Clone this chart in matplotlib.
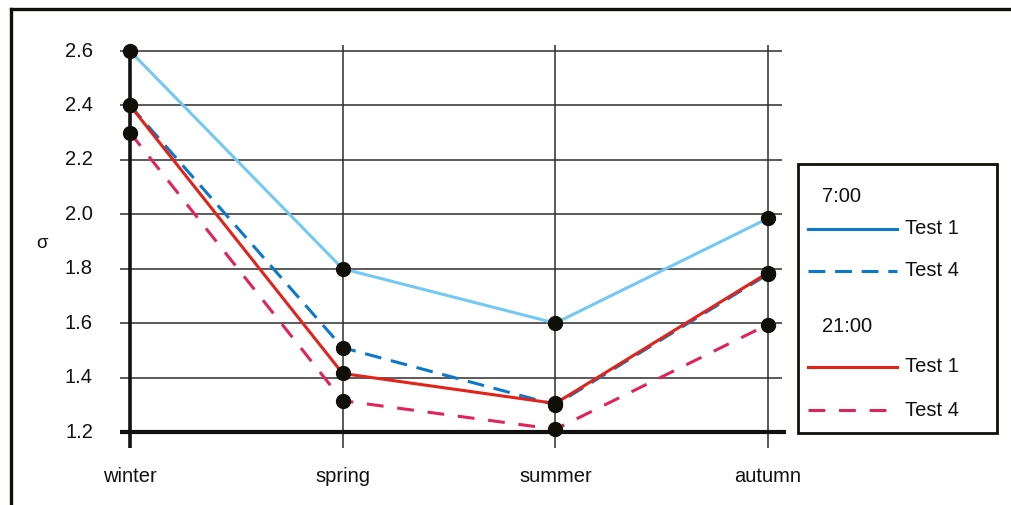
import matplotlib
matplotlib.use("Agg")
import matplotlib.pyplot as plt
from matplotlib.lines import Line2D
from matplotlib.patches import Rectangle

plt.rcParams['font.family'] = ['Liberation Sans', 'DejaVu Sans']

seasons = ["winter", "spring", "summer", "autumn"]
yticks = [1.2, 1.4, 1.6, 1.8, 2.0, 2.2, 2.4, 2.6]
ytick_labels = ["1.2", "1.4", "1.6", "1.8", "2.0", "2.2", "2.4", "2.6"]

am_test1 = [2.60, 1.80, 1.60, 1.985]
am_test4 = [2.40, 1.51, 1.30, 1.78]
pm_test1 = [2.40, 1.415, 1.305, 1.785]
pm_test4 = [2.30, 1.315, 1.21, 1.595]

W, H = 1011, 505
fig = plt.figure(figsize=(W / 100, H / 100), dpi=100)

FS = 14.5

# axes placement in pixels
L, R, T, B = 115, 790, 40, 455
ax = fig.add_axes([L / W, 1 - B / H, (R - L) / W, (B - T) / H])
px_x = (768 - 130) / 3.0
px_y = (432 - 51) / 1.4
ax.set_xlim((L - 130) / px_x, (R - 130) / px_x)
ax.set_ylim(1.2 - (B - 432) / px_y, 2.6 + (51 - T) / px_y)
for s in ax.spines.values():
    s.set_visible(False)
ax.set_xticks([])
ax.set_yticks([])
ax.patch.set_alpha(0)

xs = list(range(len(seasons)))
x_left = (120 - 130) / px_x
x_right = (782 - 130) / px_x
y_bot = 1.2 - (448 - 432) / px_y
y_top = 2.6 + (51 - 45) / px_y

# horizontal grid
ax.hlines(yticks[1:], x_left, x_right, colors="#2e2e2e", lw=1.1, zorder=1)
# vertical grid
ax.vlines(xs[1:], y_bot, y_top, colors="#2e2e2e", lw=1.1, zorder=1)
# winter axis
ax.vlines([xs[0]], y_bot, yticks[-1], colors="#111111", lw=2.6, zorder=2)
# bottom axis
ax.hlines([yticks[0]], x_left, (786 - 130) / px_x, colors="#111111", lw=3.0, zorder=2)

# tick labels
for v, lab in zip(yticks, ytick_labels):
    ax.text((93 - 130) / px_x, v, lab, ha="right", va="center", fontsize=FS, color="#111111")
for x, lab in zip(xs, seasons):
    ax.text(x, 1.2 - (476 - 432) / px_y, lab, ha="center", va="center", fontsize=FS, color="#111111")
ax.text((42 - 130) / px_x, 2.6 - (243 - 51) / px_y, "σ", ha="center", va="center", fontsize=13.5, color="#111111")

c_am1_plot = "#74c8f4"
c_am1_leg = "#0b78cc"
c_am4 = "#0b78cc"
c_pm1 = "#e2231a"
c_pm4 = "#e0245a"

dash_am = (0, (5.5, 3.2))
dash_pm = (0, (5.5, 4.5))

ax.plot(xs, am_test1, color=c_am1_plot, lw=2.2, zorder=3, solid_capstyle="butt")
ax.plot(xs, am_test4, color=c_am4, lw=2.2, ls=dash_am, zorder=3)
ax.plot(xs, pm_test4, color=c_pm4, lw=2.2, ls=dash_pm, zorder=3)
ax.plot(xs, pm_test1, color=c_pm1, lw=2.2, zorder=4)
for series in (am_test1, am_test4, pm_test1, pm_test4):
    ax.plot(xs, series, ls="none", marker="o", ms=10, color="#111008", zorder=5)

# outer frame (top and left)
def fx(p):
    return p / W

def fy(p):
    return 1 - p / H

fig.add_artist(Line2D([fx(10.5), fx(1011), fx(1011)][:2], [fy(8.5), fy(8.5)], color="#111008", lw=2.4,
                      solid_capstyle="projecting"))
fig.add_artist(Line2D([fx(10.5), fx(10.5)], [fy(8.5), fy(505)], color="#111008", lw=2.4,
                      solid_capstyle="projecting"))

# legend box
fig.add_artist(Rectangle((fx(798), fy(433)), (997 - 798) / W, (433 - 164) / H,
                         fill=False, ec="#111008", lw=2.0))
legend_rows = [
    ("7:00", None, None, 197),
    ("Test 1", c_am1_leg, "-", 229),
    ("Test 4", c_am4, dash_am, 271),
    ("21:00", None, None, 326),
    ("Test 1", c_pm1, "-", 367),
    ("Test 4", c_pm4, dash_pm, 410),
]
for label, col, ls, yp in legend_rows:
    if col is None:
        fig.text(fx(822), fy(yp), label, ha="left", va="center", fontsize=FS, color="#111111")
    else:
        fig.add_artist(Line2D([fx(808), fx(897)], [fy(yp), fy(yp)], color=col, lw=2.2, ls=ls))
        fig.text(fx(905), fy(yp), label, ha="left", va="center", fontsize=FS, color="#111111")

fig.savefig("out.png", dpi=100)
